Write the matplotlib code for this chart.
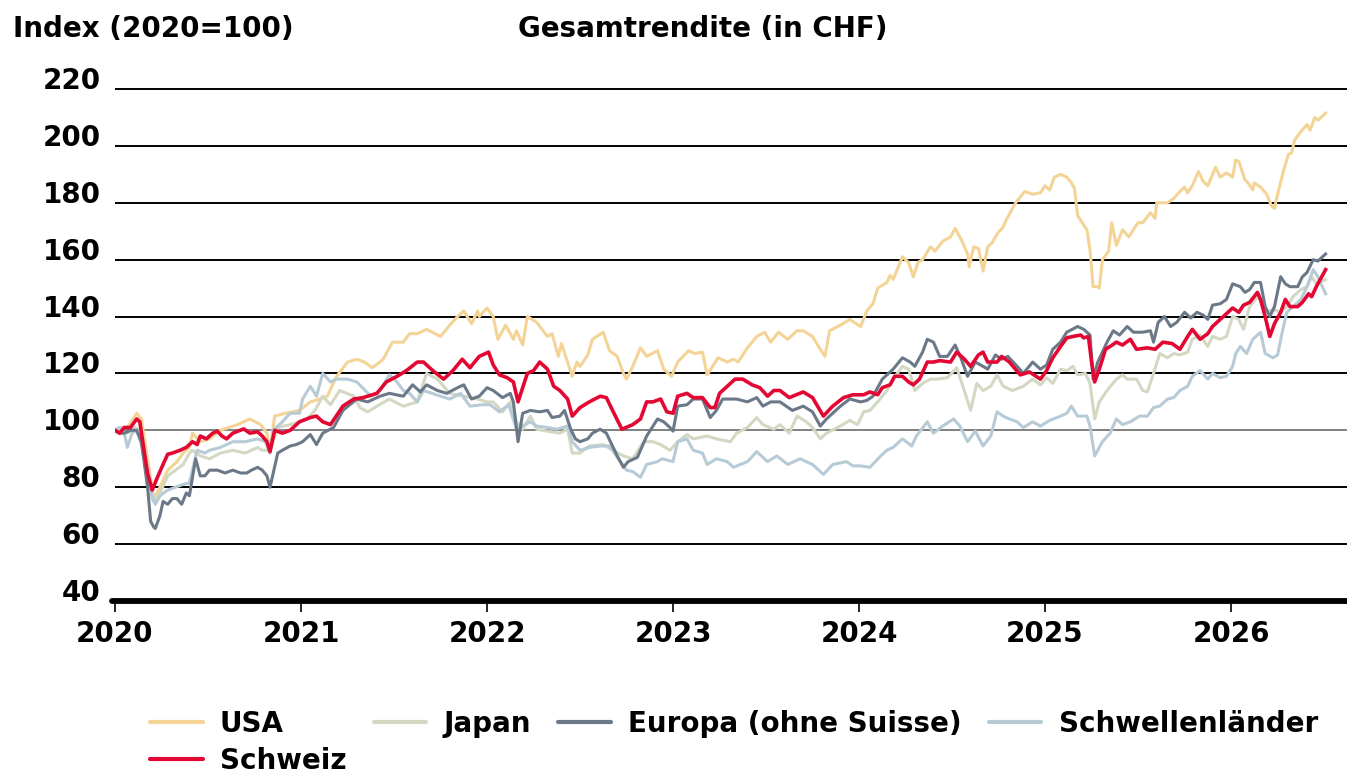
import matplotlib
matplotlib.use("Agg")
import matplotlib.pyplot as plt
from matplotlib.lines import Line2D
import numpy as np

plt.rcParams['font.family'] = ['DejaVu Sans']
plt.rcParams['font.weight'] = 'bold'

# ---- data: months since Jan 2020, index values (2020 = 100) ----
usa_m = [0.0, 0.3, 0.8, 1.4, 1.7, 2.1, 2.5, 2.9, 3.4, 4.0, 4.4, 4.8, 5.0, 5.5, 6.1, 6.8, 7.9, 8.7, 9.4, 9.8,
         10.0, 10.3, 11.0, 11.9, 12.6, 13.2, 13.7, 14.3, 15.0, 15.6, 16.1, 16.6, 17.3, 17.9, 18.6, 19.0, 19.5,
         20.1, 21.0, 21.6, 22.1, 22.5, 23.0, 23.4, 23.5, 24.0, 24.4, 24.7, 25.2, 25.7, 25.9, 26.3, 26.6, 27.2,
         27.9, 28.2, 28.6, 28.8, 29.5, 29.8, 30.0, 30.5, 30.8, 31.5, 31.9, 32.4, 32.8, 33.0, 33.4, 33.9, 34.3,
         35.0, 35.4, 35.9, 36.3, 37.0, 37.4, 37.9, 38.2, 38.9, 39.5, 39.9, 40.2, 40.8, 41.4, 41.9, 42.3, 42.8,
         43.4, 44.0, 44.4, 45.0, 45.5, 45.8, 46.1, 46.8, 47.4, 48.1, 48.5, 48.9, 49.2, 49.8, 50.0, 50.2, 50.8,
         51.2, 51.5, 51.8, 52.1, 52.6, 52.9, 53.4, 53.9, 54.2, 54.6, 55.0, 55.1, 55.4, 55.7, 56.0, 56.3, 56.6,
         56.9, 57.3, 57.5, 58.1, 58.7, 59.2, 59.7, 60.0, 60.3, 60.6, 61.0, 61.4, 61.7, 61.9, 62.1, 62.4, 62.7,
         62.9, 63.1, 63.4, 63.5, 63.7, 64.1, 64.3, 64.6, 65.0, 65.4, 66.0, 66.3, 66.8, 67.1, 67.2, 67.9, 68.3,
         68.7, 69.0, 69.2, 69.5, 69.9, 70.2, 70.5, 71.0, 71.3, 71.7, 72.1, 72.3, 72.5, 72.9, 73.1, 73.4, 73.5,
         73.9, 74.3, 74.6, 74.8, 75.0, 75.4, 75.7, 75.9, 76.1, 76.5, 76.9, 77.1, 77.4, 77.6, 78.1]
usa_v = [100, 101, 101, 106, 104, 90, 76, 80, 86, 89, 92, 94, 99, 96, 97, 100, 102, 104, 102, 99,
         93, 105, 106, 107, 110, 111, 112, 119, 124, 125, 124, 122, 125, 131, 131, 134, 134,
         135.5, 133, 137, 140, 142, 137.5, 142, 140, 143, 140, 132, 137, 132, 135, 130, 140, 138,
         133, 134, 126, 130.5, 119, 124, 122.5, 126.5, 132, 134.5, 128, 126, 120, 118, 122.5, 129, 126,
         128, 121.5, 119, 124, 128, 127, 127.5, 119.5, 125.5, 124, 125, 124, 129, 133, 134.5, 131, 134.5,
         132, 135, 135, 133, 128.5, 126, 135, 137, 139, 136.5, 142, 144.5, 150, 152, 154.5, 153, 161,
         159, 154, 159, 160, 164.5, 163, 166.5, 168, 171, 167, 162, 157.5, 164.5, 164, 156, 164.5, 166,
         169, 171.5, 174, 180, 184, 183, 183.5, 186, 184.5, 189, 190, 189, 187, 185, 175.5, 173, 170.5,
         163.5, 150.5, 150.5, 150, 160, 163, 173, 165, 170.5, 168, 173, 173, 176.5, 174.5, 180, 180, 181.5,
         184, 185.5, 183.5, 186, 191, 187.5, 186, 192.5, 189, 190.5, 189, 195, 194.5, 188, 187, 184.5, 187,
         185.5, 183, 179, 178, 183, 191.5, 197, 197.5, 202, 205, 207.5, 205.5, 210, 209, 211.5]

ch_m = [0.0, 0.3, 0.6, 1.0, 1.4, 1.6, 1.9, 2.1, 2.4, 2.7, 3.1, 3.4, 3.7, 4.2, 4.6, 5.0, 5.3, 5.5, 5.9, 6.3,
        6.6, 6.9, 7.2, 7.6, 8.3, 8.7, 9.2, 9.5, 9.8, 10.0, 10.3, 10.8, 11.3, 11.9, 12.6, 13.0, 13.4, 13.9,
        14.7, 15.4, 16.0, 16.9, 17.5, 18.2, 18.8, 19.5, 19.9, 20.5, 21.2, 21.8, 22.4, 22.9, 23.5, 24.1, 24.4,
        24.8, 25.3, 25.7, 26.0, 26.6, 27.0, 27.4, 27.9, 28.3, 28.7, 29.2, 29.5, 30.0, 30.6, 31.3, 31.7, 32.1,
        32.7, 33.4, 33.9, 34.3, 34.7, 35.2, 35.6, 36.0, 36.3, 36.9, 37.3, 37.9, 38.4, 38.7, 39.0, 39.5, 40.0,
        40.5, 41.1, 41.6, 42.1, 42.5, 42.9, 43.5, 44.4, 45.0, 45.7, 46.3, 47.0, 47.6, 48.3, 48.7, 49.2, 49.5,
        50.0, 50.3, 50.8, 51.2, 51.5, 51.9, 52.4, 52.8, 53.2, 53.9, 54.3, 54.8, 55.2, 55.7, 56.0, 56.3, 56.9,
        57.2, 57.7, 58.4, 59.0, 59.7, 60.1, 60.5, 61.0, 61.4, 61.8, 62.3, 62.5, 62.8, 63.0, 63.2, 63.5, 63.9,
        64.2, 64.6, 65.0, 65.5, 65.9, 66.6, 67.1, 67.6, 68.2, 68.7, 69.2, 69.5, 70.0, 70.5, 70.8, 71.3, 71.7,
        72.1, 72.5, 72.8, 73.2, 73.7, 73.9, 74.2, 74.5, 74.8, 75.2, 75.5, 75.8, 76.3, 76.6, 77.0, 77.2, 77.5,
        78.1]
ch_v = [100, 99, 101, 101, 104, 103, 92, 85, 79, 83, 88, 91.6, 92, 93, 94, 96, 95, 98, 97, 99,
        99.7, 98, 97, 99, 100.5, 99, 99.5, 98, 96, 92.5, 100, 99, 100, 103, 104.5, 105, 103, 102,
        108.5, 111, 111.5, 113, 117, 119, 121, 124, 124, 121, 118, 121, 125, 122, 126, 127.5, 123,
        119.5, 118.5, 117, 110, 120, 121, 124, 121.5, 115.5, 114, 111, 105, 108, 110, 112, 111.5, 107,
        100.4, 102, 104, 110, 110, 111, 106.5, 106, 112, 113, 111.5, 111.5, 108, 108, 113, 115.5, 118,
        118, 116, 115, 112, 114, 114, 111.5, 113.5, 111.5, 105, 108.5, 111.5, 112.5, 112.5, 113.5, 112.5, 115,
        116, 119, 119, 117, 116, 118, 124, 124, 124.5, 124, 127.5, 125, 122.5, 126.5, 127.5, 124, 124,
        126, 124, 119.5, 120.5, 118, 121, 125.5, 129.5, 132.5, 133, 133.5, 132.5, 133, 124, 117, 121.5, 128.5,
        129.5, 131, 130, 132, 128.5, 129, 128.5, 131, 130.5, 128.5, 133, 135.5, 132, 134, 136.5, 139, 141,
        143, 141.5, 144, 145, 148.5, 146, 140, 133, 137.5, 141.5, 146, 143.5, 143.5, 145, 148, 147, 150.5,
        156.5]

eu_m = [0.0, 0.3, 0.6, 1.0, 1.4, 1.7, 2.1, 2.3, 2.5, 2.6, 2.9, 3.1, 3.4, 3.7, 4.0, 4.3, 4.6, 4.8, 5.2, 5.5,
        5.8, 6.1, 6.6, 7.1, 7.6, 8.1, 8.5, 8.8, 9.2, 9.5, 9.8, 10.0, 10.5, 10.8, 11.3, 11.7, 12.1, 12.6, 13.0,
        13.4, 14.1, 14.7, 15.6, 16.3, 17.1, 17.7, 18.6, 19.2, 19.7, 20.1, 20.8, 21.4, 22.1, 22.5, 23.0, 23.5,
        24.0, 24.4, 25.0, 25.5, 25.7, 26.0, 26.3, 26.8, 27.4, 27.9, 28.2, 28.7, 29.0, 29.4, 29.7, 30.0, 30.5,
        30.8, 31.3, 31.7, 32.4, 32.8, 33.1, 33.7, 34.3, 35.0, 35.4, 35.8, 36.0, 36.3, 36.9, 37.3, 37.9, 38.4,
        38.8, 39.2, 40.1, 40.8, 41.4, 41.8, 42.3, 42.9, 43.7, 44.4, 45.0, 45.5, 45.9, 46.8, 47.4, 48.1, 48.5,
        48.9, 49.5, 50.2, 50.8, 51.3, 51.6, 52.1, 52.4, 52.8, 53.2, 53.7, 54.2, 54.6, 55.0, 55.5, 56.0, 56.3,
        56.8, 57.2, 57.6, 58.2, 58.6, 59.2, 59.7, 60.1, 60.5, 61.0, 61.4, 62.1, 62.5, 62.9, 63.1, 63.4, 64.0,
        64.4, 64.8, 65.3, 65.7, 66.3, 66.8, 67.0, 67.3, 67.7, 68.1, 68.5, 69.0, 69.4, 69.8, 70.2, 70.5, 70.8,
        71.3, 71.7, 72.1, 72.6, 72.9, 73.2, 73.5, 73.9, 74.2, 74.5, 74.8, 75.2, 75.5, 75.8, 76.3, 76.6, 76.9,
        77.3, 77.6, 78.1]
eu_v = [100, 99, 99, 100, 100, 96, 80, 68, 66, 65.5, 70, 75, 74, 76, 76, 74, 78, 77, 90, 84,
        84, 86, 86, 85, 86, 85, 85, 86, 87, 86, 84, 80, 92, 93, 94.5, 95, 96, 98.5, 95,
        99, 101, 107, 111, 110, 112, 113, 112, 116, 113.5, 116, 114, 113, 115, 116, 111, 112,
        115, 114, 111.5, 113, 110, 96, 106, 107, 106.5, 107, 104.5, 105, 107, 100.4, 97, 96, 97,
        99, 100.4, 99, 91, 87, 89, 90.5, 98, 104, 103, 101, 99.7, 108.5, 109, 111, 111, 104.5,
        107, 111, 111, 110, 111.5, 108.5, 110, 110, 107, 108.5, 106.5, 101.5, 104, 108.5, 111, 110, 110.5,
        112, 118, 121.5, 125.5, 124, 122.5, 127.5, 132, 131, 126, 126, 130, 125, 119, 124, 122.5, 121.5,
        126.5, 125, 126, 122.5, 120, 124, 121.5, 123, 128.5, 131, 134.5, 136.5, 135.5, 133.5, 118, 124, 131,
        135, 133.5, 136.5, 134.5, 134.5, 135, 131, 138, 140, 136.5, 138, 141.5, 139.5, 141.5, 140.5, 139, 144,
        144.5, 146, 151.5, 150.5, 148.5, 149.5, 152, 152, 143.5, 140, 143.5, 154, 151.5, 150.5, 150.5, 154, 155.5,
        160, 159.5, 162]

jp_m = [0.0, 0.3, 0.8, 1.3, 1.6, 1.9, 2.3, 2.6, 2.9, 3.4, 3.9, 4.4, 4.8, 5.0, 5.5, 6.1, 6.8, 7.6, 8.4, 9.2,
        9.5, 10.0, 10.5, 11.3, 11.9, 12.4, 12.9, 13.4, 13.9, 14.5, 15.4, 15.8, 16.3, 16.9, 17.7, 18.6, 19.5,
        20.1, 20.8, 21.6, 22.5, 23.4, 24.0, 24.4, 25.0, 25.5, 25.9, 26.3, 26.8, 27.2, 27.9, 28.7, 29.2, 29.5,
        30.0, 30.6, 31.5, 32.1, 32.8, 33.4, 34.1, 34.7, 35.2, 35.8, 36.3, 36.9, 37.3, 38.2, 38.8, 39.7, 40.1,
        40.8, 41.4, 41.8, 42.5, 42.9, 43.5, 44.0, 44.6, 45.0, 45.5, 45.9, 46.8, 47.4, 47.9, 48.3, 48.7, 49.2,
        49.8, 50.2, 50.8, 51.2, 51.6, 52.1, 52.6, 53.0, 53.7, 54.3, 54.7, 55.2, 55.6, 56.0, 56.5, 56.9, 57.3,
        57.9, 58.6, 59.2, 59.7, 60.1, 60.5, 61.0, 61.4, 61.8, 62.1, 62.6, 62.9, 63.2, 63.5, 64.0, 64.6, 65.0,
        65.3, 65.9, 66.3, 66.6, 67.0, 67.4, 67.9, 68.3, 68.7, 69.2, 69.5, 70.0, 70.5, 70.8, 71.3, 71.7, 72.1,
        72.5, 72.8, 73.2, 73.7, 74.0, 74.3, 74.7, 75.2, 75.6, 76.0, 76.5, 76.9, 77.2, 77.5, 78.1]
jp_v = [100, 100, 99, 101, 100, 92, 80, 75, 78, 84, 86, 88, 92, 93, 91, 90, 92, 93, 92, 94,
        93, 93, 101, 102, 103, 104, 107, 112, 109, 114, 112, 108, 106.5, 108.5, 111, 108.5, 110,
        120, 118, 113, 112, 111, 110, 110, 106.5, 110, 103, 100.4, 105, 100.4, 99.7, 99, 100.4, 92,
        92, 94.5, 95, 93, 91, 90, 96, 96, 95, 93, 96, 98.5, 97, 98, 97, 96, 99,
        101, 104.5, 102, 100.4, 102, 99, 105, 103, 101, 97, 99, 101.5, 103.5, 102, 106.5, 107, 110,
        114, 118, 122.5, 121.5, 114, 116.5, 118, 118, 118.5, 122, 115.5, 107, 116.5, 114, 115.5, 119.5, 115.5,
        114, 115.5, 118, 116, 118.5, 116.5, 121.5, 121, 122.5, 119.5, 120, 116.5, 104, 110, 114, 118, 119.5,
        118, 118, 114, 113.5, 120, 127, 125.5, 127, 126.5, 127.5, 132, 133.5, 129.5, 133, 132, 133, 140,
        139, 135.5, 143.5, 147, 145, 141.5, 142.5, 141.5, 143.5, 147, 149.5, 150.5, 154, 151.5, 153]

em_m = [0.0, 0.3, 0.6, 0.8, 1.1, 1.4, 1.7, 2.1, 2.4, 2.6, 2.9, 3.4, 3.9, 4.4, 4.8, 5.3, 5.8, 6.1, 6.8, 7.6,
        8.4, 9.2, 9.7, 10.0, 10.2, 10.8, 11.3, 11.9, 12.1, 12.6, 13.0, 13.4, 13.9, 14.3, 15.0, 15.6, 16.5,
        17.1, 17.7, 18.2, 18.6, 19.0, 19.5, 19.9, 21.0, 21.6, 22.3, 22.9, 23.7, 24.2, 24.8, 25.4, 25.9, 26.8,
        27.2, 27.9, 28.5, 29.2, 29.5, 30.0, 30.6, 31.3, 31.9, 32.6, 33.0, 33.4, 33.9, 34.3, 35.0, 35.3, 36.0,
        36.3, 36.9, 37.3, 37.9, 38.2, 38.8, 39.5, 39.9, 40.8, 41.4, 42.1, 42.7, 43.4, 44.2, 45.0, 45.7, 46.3,
        47.2, 47.6, 48.1, 48.7, 49.4, 49.8, 50.2, 50.8, 51.4, 51.7, 52.4, 52.8, 53.4, 54.1, 54.5, 55.0, 55.5,
        56.0, 56.5, 56.9, 57.3, 57.7, 58.2, 58.6, 59.2, 59.7, 60.3, 61.0, 61.4, 61.7, 62.1, 62.7, 62.9, 63.2,
        63.7, 64.2, 64.6, 65.0, 65.5, 66.1, 66.6, 67.0, 67.4, 67.9, 68.3, 68.7, 69.2, 69.5, 70.0, 70.5, 70.8,
        71.3, 71.7, 72.1, 72.3, 72.6, 73.0, 73.4, 73.9, 74.2, 74.7, 75.0, 75.3, 75.6, 76.0, 76.5, 76.9, 77.3,
        77.6, 78.1]
em_v = [100, 101, 99, 94, 99, 100, 95, 85, 76, 74, 77, 79, 80, 81, 81.5, 93, 92, 93, 94, 96,
        96, 97, 96, 92, 100, 103, 106, 106, 111, 115.5, 112, 120, 117, 118, 118, 117, 112,
        114, 119.5, 117, 114, 113, 110, 114, 112, 111, 113, 108.5, 109, 109, 106.5, 109, 100.4, 103,
        101.5, 101, 100.4, 101.5, 96, 93, 94, 94.5, 94.5, 89, 86, 85.5, 83.5, 88, 89, 90, 89,
        96, 97, 93, 92, 88, 90, 89, 87, 89, 92.5, 89, 91, 88, 90, 88, 84.5, 88,
        89, 87.5, 87.5, 87, 91, 93, 94, 97, 94.5, 98, 103, 99, 101.5, 104, 101.5, 96, 99.7,
        94.5, 98, 106.5, 105, 104, 103, 101, 103, 101.5, 103.5, 105, 106, 108.5, 105, 105, 101.5, 91,
        96, 99, 104, 102, 103, 105, 105, 108, 108.5, 111, 111.5, 114, 115.5, 119, 121, 118, 120,
        118.5, 119, 122.5, 127, 129.5, 127, 132, 134.5, 127, 125.5, 126.5, 134.5, 141.5, 143.5, 146, 150.5, 156.5,
        154, 148]

series = [
    ("USA", usa_m, usa_v, "#F4D496", 2.2, 2),
    ("Japan", jp_m, jp_v, "#D3D8C3", 2.2, 3),
    ("Schwellenländer", em_m, em_v, "#B7CBD6", 2.2, 4),
    ("Europa (ohne Suisse)", eu_m, eu_v, "#6A7888", 2.2, 5),
    ("Schweiz", ch_m, ch_v, "#E30733", 2.6, 6),
]
legend_order = ["USA", "Schweiz", "Japan", "Europa (ohne Suisse)", "Schwellenländer"]
year_ticks = [2020, 2021, 2022, 2023, 2024, 2025, 2026]
y_ticks = [40, 60, 80, 100, 120, 140, 160, 180, 200, 220]

W, H = 1347, 773
FS = 20
fig = plt.figure(figsize=(W / 100, H / 100), dpi=100)
ax = fig.add_axes([115 / W, 1 - 601 / H, (1345 - 115) / W, (601 - 89) / H])
xmax = 2020 + 79.35 / 12
ax.set_xlim(2020, xmax)
ax.set_ylim(40, 220)
for s in ax.spines.values():
    s.set_visible(False)

for v in y_ticks[1:]:
    ax.plot([2020, xmax + 0.05], [v, v], color="#808080" if v == 100 else "black",
            lw=1.4, clip_on=False, zorder=1, solid_capstyle="butt")
ax.plot([2019.985, xmax + 0.2], [40, 40], color="black", lw=4.2, clip_on=False,
        zorder=7, solid_capstyle="round")

handles = {}
for name, m, v, col, lw, z in series:
    t = 2020 + np.asarray(m) / 12.0
    ax.plot(t, v, color=col, lw=lw, zorder=z, solid_joinstyle="round")
    handles[name] = Line2D([], [], color=col, lw=3.0, solid_capstyle="round")

ax.set_xticks(year_ticks)
ax.set_xticklabels([str(y) for y in year_ticks], fontsize=FS, fontweight="bold")
ax.tick_params(axis="x", direction="out", length=8, width=1.2, pad=5.5, colors="black")
ax.set_yticks(y_ticks)
ax.set_yticklabels([str(y) for y in y_ticks], fontsize=FS, fontweight="bold")
ax.tick_params(axis="y", length=0, pad=10.5)
for lab in ax.get_yticklabels():
    lab.set_verticalalignment("baseline")

fig.text(13 / W, 1 - 29 / H, "Index (2020=100)", ha="left", va="center", fontsize=FS, fontweight="bold")
fig.text(518 / W, 1 - 29 / H, "Gesamtrendite (in CHF)", ha="left", va="center", fontsize=FS, fontweight="bold")

leg = fig.legend([handles[n] for n in legend_order], legend_order, loc="upper left",
                 bbox_to_anchor=(150 / W, 1 - 710 / H), ncol=4, frameon=False,
                 borderpad=0, borderaxespad=0, handlelength=1.9, handletextpad=0.62,
                 columnspacing=0.97, labelspacing=0.31, prop={"size": FS, "weight": "bold"})

fig.savefig("out.png", dpi=100)
